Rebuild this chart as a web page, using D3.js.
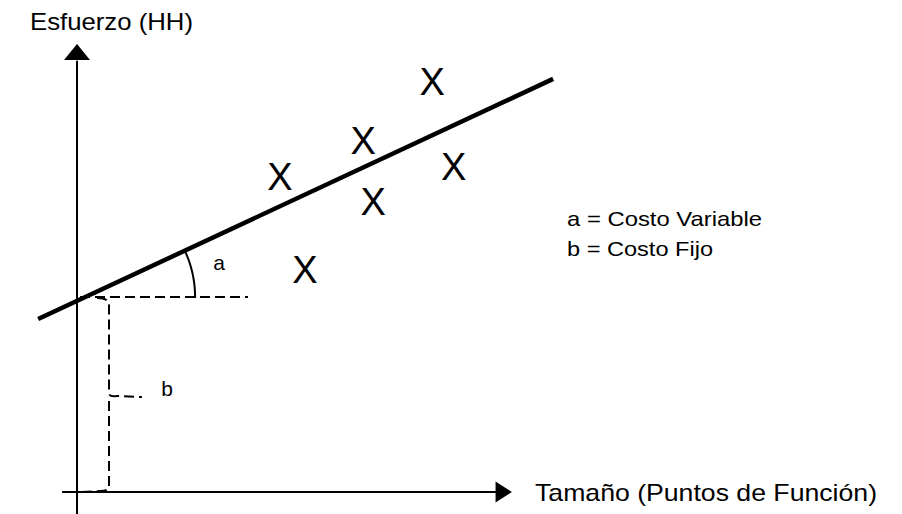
<!DOCTYPE html>
<html>
<head>
<meta charset="utf-8">
<script src="https://cdn.jsdelivr.net/npm/d3@7"></script>
<style>
  html, body { margin: 0; padding: 0; background: #fff; }
  svg { display: block; font-family: "Liberation Sans", Arial, sans-serif; }
</style>
</head>
<body>
<svg id="chart" width="902" height="514"></svg>
<script>
// ---- data (diagram units) ----
const pointX = [42.3, 59.6, 61.7, 74.0, 78.5, 47.5];
const pointY = [71.8, 79.8, 66.1, 93.2, 73.9, 50.5];
const lineX = [-8.1, 99.2];
const lineY = [39.3, 93.9];
const fixedCost = 44.3;          // b level
const fixedDashEndX = 35.6;      // end of horizontal dashed guide
const arcEndX = 24.6;            // where the angle arc meets the b level
const braceX = 6.7;              // x of the vertical brace
const braceMidY = 21.5;          // y of the brace tip ("b")
const yTitle = "Esfuerzo (HH)";
const xTitle = "Tamaño (Puntos de Función)";
const legendLines = ["a = Costo Variable", "b = Costo Fijo"];

const svg = d3.select("#chart");
const x = d3.scaleLinear().domain([0, 100]).range([77, 557]);
const y = d3.scaleLinear().domain([0, 100]).range([492, 52]);
const xr = v => Math.round(x(v)), yr = v => Math.round(y(v));

const g = svg.append("g");
// axes
g.append("line").attr("x1", x(-3.1)).attr("x2", x(87.5))
  .attr("y1", y(0)).attr("y2", y(0)).attr("stroke", "#000").attr("stroke-width", 2);
g.append("line").attr("x1", x(0)).attr("x2", x(0))
  .attr("y1", y(-5)).attr("y2", y(98)).attr("stroke", "#000").attr("stroke-width", 2);
// arrowheads
g.append("path").attr("fill", "#000")
  .attr("d", `M${x(0)},${y(101.8)} L${x(0)-13},${y(98.2)} L${x(0)+13},${y(98.2)} Z`);
g.append("path").attr("fill", "#000")
  .attr("d", `M${x(90.6)},${y(0)} L${x(87.2)},${y(0)-10.5} L${x(87.2)},${y(0)+10.5} Z`);

// dashed guide lines
const dash = "10,5";
g.append("line").attr("x1", xr(0.6)).attr("x2", xr(fixedDashEndX))
  .attr("y1", yr(fixedCost)).attr("y2", yr(fixedCost))
  .attr("stroke", "#000").attr("stroke-width", 2).attr("stroke-dasharray", dash);
const bx = xr(braceX), topY = yr(fixedCost), midY = yr(braceMidY), botY = yr(0);
g.append("path").attr("fill", "none").attr("stroke", "#000").attr("stroke-width", 2)
  .attr("stroke-dasharray", dash)
  .attr("d", `M${bx-12},${topY+1} Q${bx},${topY+1} ${bx},${topY+8} L${bx},${midY-4} Q${bx},${midY} ${bx+8},${midY-1} L${bx+33},${midY}`);
g.append("path").attr("fill", "none").attr("stroke", "#000").attr("stroke-width", 2)
  .attr("stroke-dasharray", dash)
  .attr("d", `M${bx},${midY+4} L${bx},${botY-5} Q${bx},${botY-1} ${bx-9},${botY-1} L${bx-28},${botY}`);

// regression line
g.append("line").attr("x1", x(lineX[0])).attr("y1", y(lineY[0]))
  .attr("x2", x(lineX[1])).attr("y2", y(lineY[1]))
  .attr("stroke", "#000").attr("stroke-width", 4.5);

// angle arc (a)
const px0 = x(lineX[0]), py0 = y(lineY[0]), px1 = x(lineX[1]), py1 = y(lineY[1]);
const ang = Math.atan2(py0 - py1, px1 - px0);
const cy = yr(fixedCost);
const cx = px0 + (py0 - cy) / Math.tan(ang);
const r = x(arcEndX) - cx;
const arcPts = d3.range(0, 1.0001, 0.05).map(t => {
  const a = ang * (1 - t);
  return [cx + r * Math.cos(a), cy - r * Math.sin(a)];
});
arcPts.push([x(arcEndX) - 5, cy]);
g.append("path").attr("fill", "none").attr("stroke", "#000").attr("stroke-width", 2)
  .attr("d", d3.line()(arcPts));

// X markers
g.selectAll("text.pt").data(pointX.map((d, i) => [d, pointY[i]])).join("text")
  .attr("class", "pt").attr("x", d => x(d[0])).attr("y", d => y(d[1]) + 13.5)
  .attr("text-anchor", "middle").attr("font-size", 38).text("X");

// labels
g.append("text").attr("x", 219).attr("y", 270).attr("text-anchor", "middle")
  .attr("font-size", 21).text("a");
g.append("text").attr("x", 167).attr("y", 396).attr("text-anchor", "middle")
  .attr("font-size", 21).text("b");
g.append("text").attr("x", 30).attr("y", 30).attr("font-size", 24)
  .attr("textLength", 163).attr("lengthAdjust", "spacingAndGlyphs").text(yTitle);
g.append("text").attr("x", 535).attr("y", 501).attr("font-size", 24)
  .attr("textLength", 342).attr("lengthAdjust", "spacingAndGlyphs").text(xTitle);
const legW = [195, 146];
g.selectAll("text.leg").data(legendLines).join("text").attr("class", "leg")
  .attr("x", 567).attr("y", (d, i) => 226 + i * 30).attr("font-size", 21)
  .attr("textLength", (d, i) => legW[i]).attr("lengthAdjust", "spacingAndGlyphs")
  .text(d => d);
</script>
</body>
</html>
